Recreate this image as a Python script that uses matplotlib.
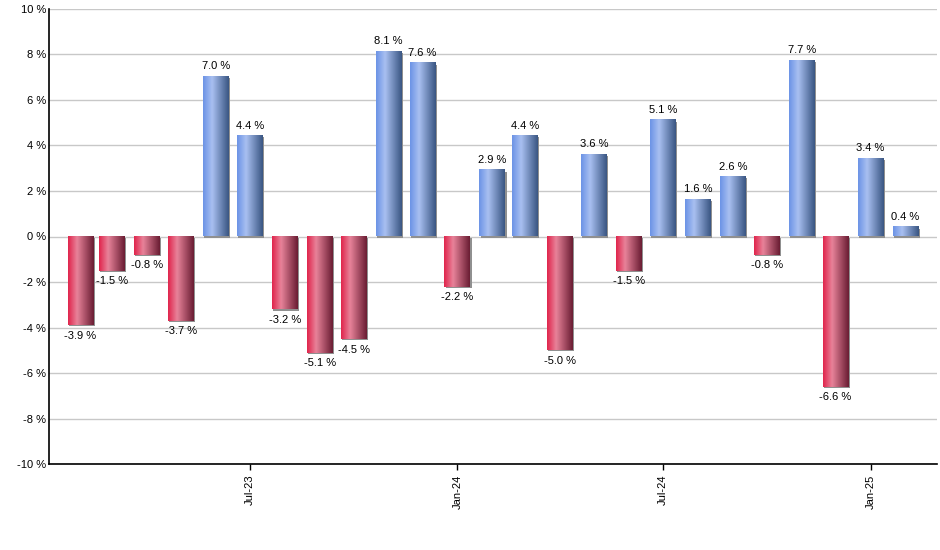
import numpy as np
import matplotlib.pyplot as plt
import matplotlib.dates as mdates
from matplotlib.colors import LinearSegmentedColormap
import datetime as dt

plt.rcParams['font.family'] = ['Liberation Sans', 'DejaVu Sans']

# monthly returns, Feb 2023 .. Feb 2025
months = [dt.date(2023 + (1 + i) // 12, (1 + i) % 12 + 1, 1) for i in range(25)]
values = [-3.9, -1.5, -0.8, -3.7, 7.0, 4.4, -3.2, -5.1, -4.5, 8.1, 7.6, -2.2, 2.9,
          4.4, -5.0, 3.6, -1.5, 5.1, 1.6, 2.6, -0.8, 7.7, -6.6, 3.4, 0.4]
tick_dates = [dt.date(2023, 7, 1), dt.date(2024, 1, 1), dt.date(2024, 7, 1), dt.date(2025, 1, 1)]
tick_labels = ['Jul-23', 'Jan-24', 'Jul-24', 'Jan-25']

blue_cmap = LinearSegmentedColormap.from_list(
    'b', [(0, '#6c93e6'), (0.35, '#a9c0f1'), (1, '#3a5683')])
red_cmap = LinearSegmentedColormap.from_list(
    'r', [(0, '#e0254c'), (0.35, '#e8839a'), (1, '#6a1d33')])

fig = plt.figure(figsize=(9.4, 5.5), dpi=100)
ax = fig.add_axes([0.052, 0.156, 0.945, 0.828])

grad = np.linspace(0, 1, 64).reshape(1, -1)
width = 23  # days
for d, v in zip(months, values):
    x = mdates.date2num(d)
    x0, x1 = x - width / 2, x + width / 2
    cmap = blue_cmap if v >= 0 else red_cmap
    lo, hi = min(0, v), max(0, v)
    # small shadow
    ax.add_patch(plt.Rectangle((x0 + 1, lo - 0.05), width, hi - lo, color='#909090',
                               zorder=2, lw=0))
    ax.imshow(grad, cmap=cmap, extent=(x0, x1, lo, hi), aspect='auto', zorder=3,
              interpolation='bicubic')
    if v >= 0:
        ax.text(x, v + 0.25, f'{v:.1f} %', ha='center', va='bottom', fontsize=8)
    else:
        ax.text(x, v - 0.25, f'{v:.1f} %', ha='center', va='top', fontsize=8)

ax.set_xlim(mdates.date2num(dt.date(2023, 1, 4)), mdates.date2num(dt.date(2025, 3, 1)))
ax.set_ylim(-10, 10)
ax.set_yticks(range(-10, 11, 2))
ax.set_yticklabels([f'{t} %' for t in range(-10, 11, 2)], fontsize=8)
ax.set_xticks([mdates.date2num(d) for d in tick_dates])
ax.set_xticklabels(tick_labels, rotation=90, fontsize=8)
ax.grid(axis='y', color='#c8c8c8', lw=1, zorder=0)
ax.set_axisbelow(True)
for s in ['top', 'right']:
    ax.spines[s].set_visible(False)
for s in ['left', 'bottom']:
    ax.spines[s].set_linewidth(1.2)
ax.tick_params(axis='y', length=0, pad=2)
ax.tick_params(axis='x', length=4, width=1)

fig.savefig('out.png', dpi=100)
